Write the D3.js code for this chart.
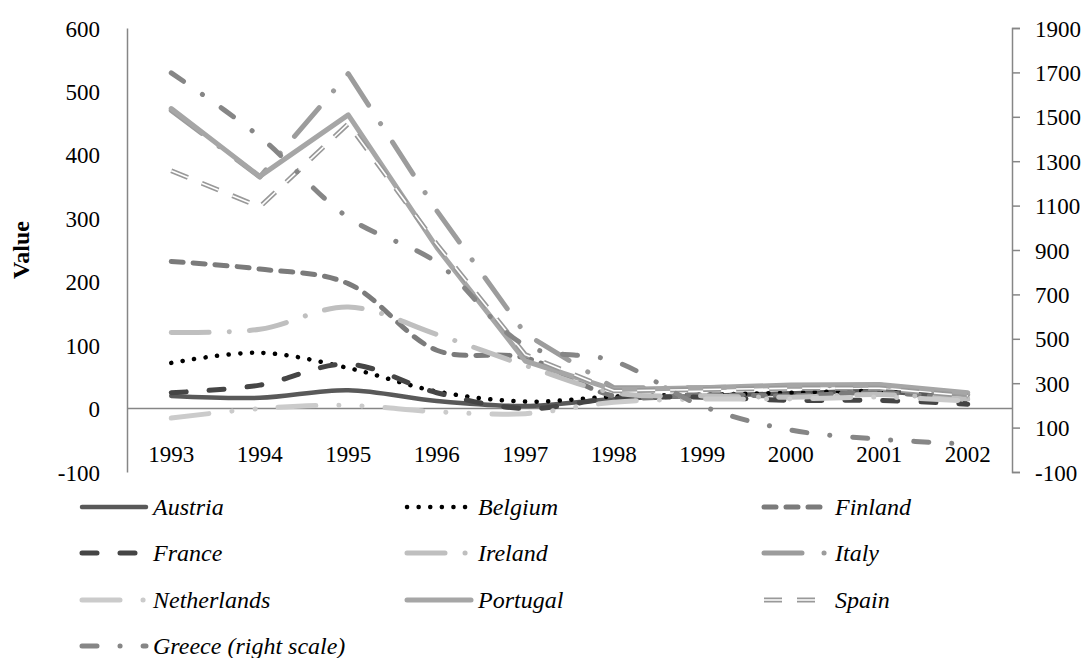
<!DOCTYPE html>
<html>
<head>
<meta charset="utf-8">
<script src="https://cdnjs.cloudflare.com/ajax/libs/d3/7.8.5/d3.min.js"></script>
<style>
  body { margin: 0; background: #fff; }
  text { font-family: "Liberation Serif", serif; fill: #000; }
</style>
</head>
<body>
<div id="chart"></div>
<script>
// data
var years = ["1993", "1994", "1995", "1996", "1997", "1998", "1999", "2000", "2001", "2002"];
var austria     = [20, 17, 29, 12, 4, 15, 20, 24, 27, 15];
var belgium     = [72, 88, 64, 27, 11, 19, 22, 25, 27, 12];
var finland     = [232, 220, 197, 92, 80, 20, 22, 20, 25, 15];
var france      = [25, 37, 70, 25, 0, 16, 18, 13, 13, 7];
var ireland     = [120, 125, 160, 117, 68, 25, 20, 18, 22, 15];
var italy       = [470, 365, 528, 312, 118, 33, 33, 35, 37, 22];
var netherlands = [-15, 0, 5, -5, -8, 10, 15, 15, 18, 12];
var portugal    = [473, 366, 463, 254, 75, 30, 33, 37, 38, 25];
var spain       = [375, 318, 449, 259, 85, 28, 30, 32, 32, 20];
var greece      = [1698, 1410, 1046, 844, 471, 400, 197, 89, 48, 26];
var leftTicks  = [-100, 0, 100, 200, 300, 400, 500, 600];
var rightTicks = [-100, 100, 300, 500, 700, 900, 1100, 1300, 1500, 1700, 1900];

// series styles
var series = [
  {name: "Austria", values: austria, color: "#595959", w: 4.5, dash: null, smooth: true},
  {name: "Belgium", values: belgium, color: "#000000", w: 4.5, dash: "0.1 11.5", smooth: true},
  {name: "Finland", values: finland, color: "#7b7b7b", w: 5, dash: "12 10", smooth: true},
  {name: "France", values: france, color: "#454545", w: 5, dash: "15 23", smooth: true},
  {name: "Ireland", values: ireland, color: "#bfbfbf", w: 5, dash: "38 20 0.1 20", smooth: true},
  {name: "Italy", values: italy, color: "#9c9c9c", w: 5, dash: "38 22 0.1 22", smooth: false},
  {name: "Netherlands", values: netherlands, color: "#cbcbcb", w: 5, dash: "38 23 0.1 23 0.1 23", smooth: true},
  {name: "Portugal", values: portugal, color: "#a6a6a6", w: 5, dash: null, smooth: false},
  {name: "Spain", values: spain, color: "#999999", w: 5, dash: "18 15", smooth: false, double: true},
  {name: "Greece (right scale)", values: greece, color: "#868686", w: 5, dash: "15 23 0.1 23", smooth: true, right: true}
];

var width = 1090, height = 658;
var plotLeft = 127, plotRight = 1012, plotTop = 28, plotBottom = 472;
var plain = function(d) { return String(d); };  // keep "-100" and "1900" as printed

var svg = d3.select("#chart").append("svg")
  .attr("width", width)
  .attr("height", height);
svg.append("rect").attr("width", width).attr("height", height).attr("fill", "#fff");

// scales
var x = d3.scaleBand().domain(years).range([plotLeft, plotRight]);
var yL = d3.scaleLinear().domain([-100, 600]).range([plotBottom, plotTop]);
var yR = d3.scaleLinear().domain([-100, 1900]).range([plotBottom, plotTop]);
function cx(d) { return x(d) + x.bandwidth() / 2; }

// left axis
var gl = svg.append("g")
  .attr("transform", "translate(" + plotLeft + ",0)")
  .call(d3.axisLeft(yL).tickValues(leftTicks).tickFormat(plain).tickSize(0).tickPadding(27));
gl.select(".domain").attr("stroke", "#868686").attr("stroke-width", 1.5);
gl.selectAll("text").style("font-size", "23px").style("font-family", "Liberation Serif").attr("dy", "0.35em");

// right axis
var gr = svg.append("g")
  .attr("transform", "translate(" + plotRight + ",0)")
  .call(d3.axisRight(yR).tickValues(rightTicks).tickFormat(plain).tickSize(8).tickPadding(15));
gr.select(".domain").attr("stroke", "#868686").attr("stroke-width", 1.5);
gr.selectAll("line").attr("stroke", "#868686").attr("stroke-width", 1.5);
gr.selectAll("text").style("font-size", "23px").style("font-family", "Liberation Serif").attr("dy", "0.35em");

// zero line
svg.append("line")
  .attr("x1", plotLeft).attr("x2", plotRight)
  .attr("y1", yL(0)).attr("y2", yL(0))
  .attr("stroke", "#868686").attr("stroke-width", 1.5);

// category labels sit low
var gx = svg.append("g")
  .attr("transform", "translate(0,439)")
  .call(d3.axisBottom(x).tickSize(0).tickPadding(7));
gx.select(".domain").remove();
gx.selectAll("text").style("font-size", "23px").style("font-family", "Liberation Serif");

// y title
svg.append("text")
  .attr("transform", "translate(29," + ((plotTop + plotBottom) / 2) + ") rotate(-90)")
  .style("text-anchor", "middle")
  .style("font-size", "24px")
  .style("font-weight", "bold")
  .text("Value");

function styleLine(sel, s) {
  sel.attr("fill", "none")
    .attr("stroke", s.color)
    .attr("stroke-width", s.w)
    .attr("stroke-linecap", s.double ? "butt" : "round")
    .attr("stroke-linejoin", s.double ? "miter" : "round")
    .attr("stroke-dasharray", s.dash);
}
function styleInner(sel, s) {
  sel.attr("fill", "none")
    .attr("stroke", "#fff")
    .attr("stroke-width", 1.6)
    .attr("stroke-linecap", "butt")
    .attr("stroke-linejoin", "miter")
    .attr("stroke-dasharray", s.dash);
}

// lines
var plot = svg.append("g");
series.forEach(function(s) {
  var yy = s.right ? yR : yL;
  var line = d3.line()
    .curve(s.smooth ? d3.curveCatmullRom : d3.curveLinear)
    .x(function(d, i) { return cx(years[i]); })
    .y(function(d) { return yy(d); });
  plot.append("path").datum(s.values).attr("d", line).call(styleLine, s);
  if (s.double) {
    plot.append("path").datum(s.values).attr("d", line).call(styleInner, s);
  }
});

// legend
var colX = [80, 405, 762];
var rowY = [507, 553, 600, 646];
var legend = svg.append("g");
series.forEach(function(s, i) {
  var lx = colX[i % 3], ly = rowY[Math.floor(i / 3)];
  legend.append("line")
    .attr("x1", lx + 2).attr("x2", lx + 66)
    .attr("y1", ly).attr("y2", ly)
    .call(styleLine, s);
  if (s.double) {
    legend.append("line")
      .attr("x1", lx + 2).attr("x2", lx + 66)
      .attr("y1", ly).attr("y2", ly)
      .call(styleInner, s);
  }
  legend.append("text")
    .attr("x", lx + 73)
    .attr("y", ly)
    .attr("dy", "0.33em")
    .style("font-size", "24px")
    .style("font-style", "italic")
    .text(s.name);
});
</script>
</body>
</html>
